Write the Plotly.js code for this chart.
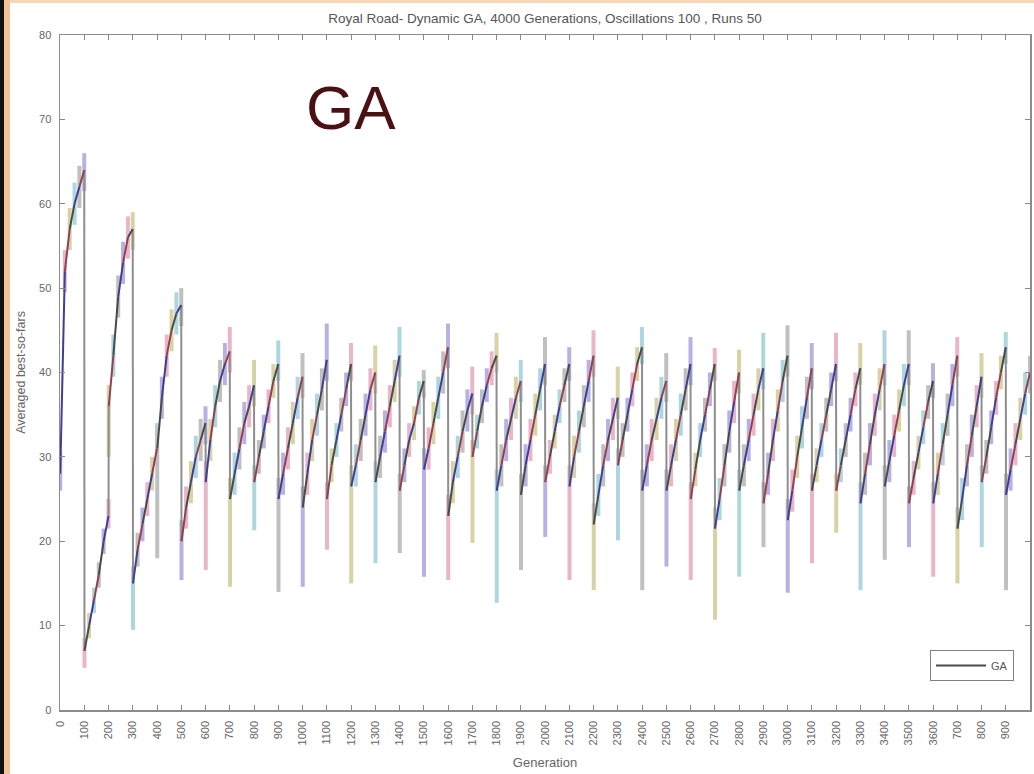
<!DOCTYPE html>
<html><head><meta charset="utf-8">
<script src="https://cdn.plot.ly/plotly-3.0.1.min.js"></script>
<style>
html,body{margin:0;padding:0;background:#fff;}
#wrap{position:relative;width:1034px;height:774px;overflow:hidden;}
#plot{position:absolute;left:0;top:0;width:1034px;height:774px;}
#edgeL{position:absolute;left:0;top:0;width:4px;height:774px;background:#111;}
#edgeO{position:absolute;left:4px;top:0;width:6px;height:774px;background:#f2c398;}
#edgeT{position:absolute;left:4px;top:0;width:1030px;height:3px;background:#f5d6b6;}
</style></head><body>
<div id="wrap"><div id="plot"></div><div id="edgeT"></div><div id="edgeL"></div><div id="edgeO"></div></div>
<script>
// Start generation of each 100-generation oscillation period
const periodStart = [0,100,200,300,400,500,600,700,800,900,1000,1100,1200,1300,1400,1500,1600,1700,1800,1900,
  2000,2100,2200,2300,2400,2500,2600,2700,2800,2900,3000,3100,3200,3300,3400,3500,3600,3700,3800,3900];
// generation offsets inside each period where the averaged best-so-far is sampled
const sampleOffsets = [1,20,40,60,80,100];

// Averaged best-so-far at each sample offset of each period
const meanAtStart = [28,7,36,15,31,20,27,25,27,25, 24,25,26.5,27,26,28.5,23,30,26,25.5, 27,26.5,22,29,26,26,25,21.5,26,24.5, 22.5,26,26,24.5,26.5,24.5,24.5,21.5,27,25.5];
const meanAt20    = [52,10,42,19,37,24,32,28,30,28, 28,29,29,30,29,31,27,33,29,29, 30,30,25.5,32,29,29,28.5,25,29,28, 26,29,29,28,29.5,27.5,28,25,30,28.5];
const meanAt40    = [57,13,49,22,42,27,36,31,33,31, 32,32,32,33,32,34,30,36,32,32, 33,33,29,35,32,32,32,29,32,32, 30,32,32,31.5,32.5,30.5,31.5,29,33.5,31.5];
const meanAt60    = [60,16,53,25,45,30,39,34,36,34, 35,35,35,36,34,37,33,38.5,34.5,35, 36,36,32,38,34.5,35,35,33,35,35.5, 33.5,35,35,35,35.5,33.5,35,32.5,37,34.5];
const meanAt80    = [62,20,56,28,47,32,41,36,39,37, 38,38,38,39,37,40,35.5,40.5,37,38, 38.5,39,34.5,41,37,38,38,36.5,38,39, 37,38,38,38,38.5,36.5,38.5,36,40,37.5];
const meanAtPeak  = [64,23,57,31,48,34,42.5,38.5,41,39.5, 41.5,41,40,42,39,43,37.5,42,39,41, 41,42,37,43,39,41,41,40,40.5,42, 40.5,41,40.5,41,41,39,42,39.5,43,40];

// Error-bar extents
const lowestAtStart = [26,5,30,9.5,18,15.4,16.6,14.6,21.3,14, 14.6,19,15,17.4,18.6,15.8,15.4,19.8,12.7,16.6, 20.5,15.4,14.2,20.1,14.2,17,15.4,10.7,15.8,19.3, 13.9,17.4,21,14.2,17.8,19.3,15.8,15,19.3,14.2];
const highestAtPeak = [66,25,59,34,50,36,45.4,41.5,43.8,42.3, 45.8,43.5,43.2,45.4,40.3,45.8,40.7,44.7,41.5,44.2, 43,45,40.7,45.4,42.3,44.2,42.9,42.7,44.7,45.6, 43.5,44.7,43.5,45,45,41.1,44.2,42.3,44.8,42];
const bandHalfWidth = [2.5,1.5,2.5,2,2.5,2.5,2.5,2.5,2,2.5, 2.5,2,2.5,2.5,2,2.5,2.5,2,2.5,2.5, 2,2.5,2.5,2,2.5,2.5,2,2.5,2.5,2.5, 2.5,2,2,2.5,2.5,2,2.5,2.5,2,2.5];

// x tick labels as shown
const xTickLabels = ['0','100','200','300','400','500','600','700','800','900','1000','1100','1200','1300','1400','1500','1600','1700','1800','1900',
  '2000','2100','2200','2300','2400','2500','2600','2700','2800','2900','3000','3100','3200','3300','3400','3500','3600','700','800','900','4000'];
const xTickValues = [0,100,200,300,400,500,600,700,800,900,1000,1100,1200,1300,1400,1500,1600,1700,1800,1900,
  2000,2100,2200,2300,2400,2500,2600,2700,2800,2900,3000,3100,3200,3300,3400,3500,3600,3700,3800,3900,4000];
const yTickValues = [0,10,20,30,40,50,60,70,80];

const barColors = ['#b7b2e3','#e9b5c9','#d8d3a6','#aed6df','#c0c0c0'];
const segColors = ['#3f3f92','#93404f','#4a4a4a'];

const samples = [meanAtStart, meanAt20, meanAt40, meanAt60, meanAt80, meanAtPeak];
const xs=[], ys=[], ePlus=[], eMinus=[];
for (let p=0;p<periodStart.length;p++){
  for (let i=0;i<sampleOffsets.length;i++){
    const v = samples[i][p];
    xs.push(periodStart[p]+sampleOffsets[i]); ys.push(v);
    let up = bandHalfWidth[p], dn = bandHalfWidth[p];
    if (i===0) dn = Math.max(0, v - lowestAtStart[p]);
    if (i===sampleOffsets.length-1) up = Math.max(0, highestAtPeak[p]-v);
    ePlus.push(up); eMinus.push(dn);
  }
}
const traces = [];
// error bars, colour cycling
for (let k=0;k<barColors.length;k++){
  const tx=[],ty=[],tp=[],tm=[];
  for (let j=k;j<xs.length;j+=barColors.length){ tx.push(xs[j]); ty.push(ys[j]); tp.push(ePlus[j]); tm.push(eMinus[j]); }
  traces.push({type:'scatter',mode:'markers',x:tx,y:ty,marker:{size:1,color:'rgba(0,0,0,0)'},
    error_y:{type:'data',symmetric:false,array:tp,arrayminus:tm,color:barColors[k],thickness:4,width:0},
    hoverinfo:'skip',showlegend:false});
}
// drops between periods
const n = sampleOffsets.length;
const dx=[],dy=[];
for (let p=0;p<periodStart.length-1;p++){
  const a=p*n+n-1, b=(p+1)*n;
  dx.push(xs[a],xs[b],null); dy.push(ys[a],ys[b],null);
}
traces.push({type:'scatter',mode:'lines',x:dx,y:dy,line:{color:'#8e8e8e',width:2},hoverinfo:'skip',showlegend:false});
// rising segments, colour cycling
const segX = segColors.map(()=>[]), segY = segColors.map(()=>[]);
let c=0;
for (let p=0;p<periodStart.length;p++){
  for (let i=0;i<n-1;i++){
    const a=p*n+i, b=a+1, k=c%segColors.length;
    segX[k].push(xs[a],xs[b],null); segY[k].push(ys[a],ys[b],null); c++;
  }
}
segColors.forEach((col,k)=>{
  traces.push({type:'scatter',mode:'lines',x:segX[k],y:segY[k],line:{color:col,width:2},
    name:'GA',showlegend:k===2,hoverinfo:'skip'});
});

const font = '"Liberation Sans", Arial, Helvetica, sans-serif';
const layout = {
  width:1034,height:774,
  margin:{l:60,r:4,t:35,b:64,pad:0},
  paper_bgcolor:'#ffffff',plot_bgcolor:'#ffffff',
  font:{family:font,size:11,color:'#666'},
  title:{text:'Royal Road- Dynamic GA, 4000 Generations, Oscillations 100 , Runs 50',
    font:{family:font,size:13.5,color:'#555'},x:0.5,xref:'paper',xanchor:'center',y:1-18/774,yref:'container',yanchor:'middle'},
  xaxis:{range:[0,4000],tickmode:'array',tickvals:xTickValues,ticktext:xTickLabels,tickangle:-90,
    ticks:'inside',ticklen:5,tickwidth:1,tickcolor:'#888',showline:true,linecolor:'#8c8c8c',linewidth:1.5,
    mirror:'ticks',showgrid:false,zeroline:false,tickfont:{size:11,color:'#666'},ticklabelstandoff:5,
    title:{text:'Generation',font:{size:13,color:'#666'},standoff:13}},
  yaxis:{range:[0,80],tickmode:'array',tickvals:yTickValues,
    ticks:'inside',ticklen:5,tickwidth:1,tickcolor:'#888',showline:true,linecolor:'#8c8c8c',linewidth:1.5,
    mirror:'ticks',showgrid:false,zeroline:false,tickfont:{size:11,color:'#666'},ticklabelstandoff:5,
    title:{text:'Averaged best-so-fars',font:{size:12.5,color:'#666'},standoff:10}},
  showlegend:true,
  legend:{x:0.9835,xanchor:'right',y:0.043,yanchor:'bottom',bordercolor:'#808080',borderwidth:1,bgcolor:'#fff',
    font:{size:11,color:'#555'},itemwidth:50},
  annotations:[{text:'GA',xref:'paper',yref:'paper',x:0.3,y:0.892,showarrow:false,xanchor:'center',yanchor:'middle',
    font:{family:font,size:62,color:'#4a1014'}}]
};
Plotly.newPlot('plot',traces,layout,{staticPlot:true,displayModeBar:false});
</script></body></html>
